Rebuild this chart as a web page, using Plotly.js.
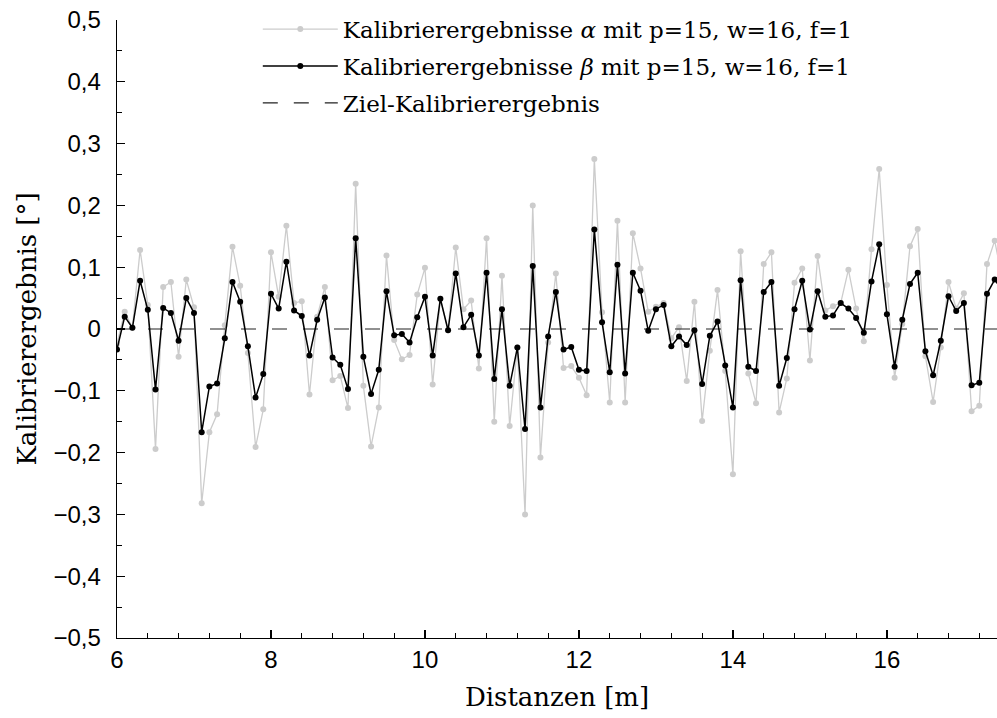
<!DOCTYPE html>
<html>
<head>
<meta charset="utf-8">
<script src="https://cdn.plot.ly/plotly-3.0.1.min.js"></script>
<style>html,body{margin:0;padding:0;background:#fff;}#chart{width:997px;height:718px;}</style>
</head>
<body>
<div id="chart"></div>
<script>
// Distances [m]
const distanzen = [
  6.0,6.1,6.2,6.3,6.4,6.5,6.6,6.7,6.8,6.9,
  7.0,7.1,7.2,7.3,7.4,7.5,7.6,7.7,7.8,7.9,
  8.0,8.1,8.2,8.3,8.4,8.5,8.6,8.7,8.8,8.9,
  9.0,9.1,9.2,9.3,9.4,9.5,9.6,9.7,9.8,9.9,
  10.0,10.1,10.2,10.3,10.4,10.5,10.6,10.7,10.8,10.9,
  11.0,11.1,11.2,11.3,11.4,11.5,11.6,11.7,11.8,11.9,
  12.0,12.1,12.2,12.3,12.4,12.5,12.6,12.7,12.8,12.9,
  13.0,13.1,13.2,13.3,13.4,13.5,13.6,13.7,13.8,13.9,
  14.0,14.1,14.2,14.3,14.4,14.5,14.6,14.7,14.8,14.9,
  15.0,15.1,15.2,15.3,15.4,15.5,15.6,15.7,15.8,15.9,
  16.0,16.1,16.2,16.3,16.4,16.5,16.6,16.7,16.8,16.9,
  17.0,17.1,17.2,17.3,17.4,17.5
];

// Kalibrierergebnisse alpha (grey)
const alphaWerte = [
  -0.024,0.028,0.002,0.128,0.039,-0.194,0.068,0.076,-0.045,0.080,
  0.035,-0.282,-0.167,-0.138,0.006,0.133,0.070,-0.039,-0.191,-0.130,
  0.124,0.052,0.167,0.042,0.045,-0.106,0.020,0.068,-0.083,-0.076,
  -0.128,0.235,-0.092,-0.190,-0.127,0.119,-0.018,-0.049,-0.042,0.056,
  0.099,-0.090,0.049,-0.002,0.132,0.032,0.046,-0.064,0.147,-0.150,
  0.086,-0.157,-0.030,-0.300,0.200,-0.208,-0.022,0.090,-0.063,-0.060,
  -0.079,-0.107,0.275,0.027,-0.119,0.175,-0.119,0.155,0.098,0.028,
  0.036,0.042,-0.015,0.003,-0.084,0.044,-0.149,-0.035,0.063,-0.068,
  -0.235,0.126,-0.072,-0.120,0.105,0.124,-0.135,-0.080,0.075,0.098,
  -0.051,0.118,0.030,0.037,0.042,0.096,0.033,-0.020,0.129,0.259,
  0.071,-0.079,0.008,0.134,0.162,-0.044,-0.118,-0.030,0.076,0.033,
  0.058,-0.133,-0.124,0.105,0.143,0.080
];

// Kalibrierergebnisse beta (black)
const betaWerte = [
  -0.033,0.020,0.002,0.078,0.031,-0.098,0.034,0.026,-0.019,0.050,
  0.026,-0.167,-0.093,-0.088,-0.015,0.076,0.044,-0.028,-0.111,-0.073,
  0.057,0.033,0.109,0.030,0.021,-0.043,0.015,0.051,-0.046,-0.058,
  -0.097,0.147,-0.045,-0.105,-0.066,0.061,-0.010,-0.008,-0.022,0.019,
  0.052,-0.043,0.049,-0.002,0.090,0.003,0.023,-0.043,0.091,-0.081,
  0.032,-0.092,-0.030,-0.162,0.102,-0.127,-0.012,0.060,-0.033,-0.029,
  -0.066,-0.068,0.161,0.011,-0.070,0.104,-0.072,0.091,0.062,-0.003,
  0.032,0.039,-0.028,-0.012,-0.026,-0.002,-0.089,-0.011,0.012,-0.059,
  -0.127,0.079,-0.061,-0.068,0.060,0.076,-0.092,-0.047,0.032,0.078,
  -0.001,0.061,0.020,0.022,0.042,0.033,0.018,-0.006,0.077,0.137,
  0.024,-0.061,0.015,0.073,0.091,-0.036,-0.075,-0.019,0.053,0.029,
  0.042,-0.091,-0.087,0.057,0.080,0.062
];

// Ziel-Kalibrierergebnis
const zielX = [6, 17.5];
const zielY = [0, 0];

const nameAlpha = 'Kalibrierergebnisse <i>α</i> mit p=15, w=16, f=1';
const nameBeta = 'Kalibrierergebnisse <i>β</i> mit p=15, w=16, f=1';
const nameZiel = 'Ziel-Kalibrierergebnis';
const xTitel = 'Distanzen [m]';
const yTitel = 'Kalibrierergebnis [°]';

const traces = [
  {x: distanzen, y: alphaWerte, name: nameAlpha, type: 'scatter', mode: 'lines+markers',
   line: {color: '#cccccc', width: 1.3}, marker: {color: '#cccccc', size: 6},
   legendrank: 1, legendgroup: 'a'},
  {x: zielX, y: zielY, name: nameZiel, type: 'scatter', mode: 'lines',
   line: {color: '#222222', width: 1.2, dash: '15px,16px'},
   legendrank: 3, legendgroup: 'c'},
  {x: distanzen, y: betaWerte, name: nameBeta, type: 'scatter', mode: 'lines+markers',
   line: {color: '#000000', width: 1.5}, marker: {color: '#000000', size: 6},
   legendrank: 2, legendgroup: 'b'}
];

const tickFont = {family: 'Liberation Sans', size: 24, color: '#000'};
const serif = 'DejaVu Serif';

const layout = {
  width: 997, height: 718,
  margin: {l: 117, r: 0, t: 20, b: 80, pad: 0},
  paper_bgcolor: '#fff', plot_bgcolor: '#fff',
  separators: ',.',
  showlegend: true,
  legend: {x: 0.16, y: 1.02, xanchor: 'left', yanchor: 'top',
           bgcolor: 'rgba(0,0,0,0)', borderwidth: 0, itemwidth: 75,
           font: {family: serif, size: 23, color: '#000'},
           traceorder: 'grouped', tracegroupgap: 4},
  xaxis: {
    range: [6, 17.43], showgrid: false, zeroline: false,
    showline: true, linecolor: '#000', linewidth: 1.3,
    ticks: 'inside', ticklen: 8, tickwidth: 1.3, tickcolor: '#000',
    tick0: 6, dtick: 2, tickfont: tickFont,
    minor: {ticks: 'inside', ticklen: 5, tickwidth: 1, tickcolor: '#000', tick0: 6, dtick: 0.4, showgrid: false},
    title: {text: xTitel, font: {family: serif, size: 26, color: '#000'}, standoff: 15}
  },
  yaxis: {
    range: [-0.5, 0.5], showgrid: false, zeroline: false,
    showline: true, linecolor: '#000', linewidth: 1.3,
    ticks: 'inside', ticklen: 8, tickwidth: 1.3, tickcolor: '#000',
    tick0: 0, dtick: 0.1, tickformat: '.1~f', tickfont: tickFont,
    ticklabelstandoff: 10,
    minor: {ticks: 'inside', ticklen: 5, tickwidth: 1, tickcolor: '#000', tick0: 0, dtick: 0.05, showgrid: false},
    title: {text: yTitel, font: {family: serif, size: 26, color: '#000'}, standoff: 9}
  }
};

Plotly.newPlot('chart', traces, layout, {displayModeBar: false, staticPlot: true});
</script>
</body>
</html>
